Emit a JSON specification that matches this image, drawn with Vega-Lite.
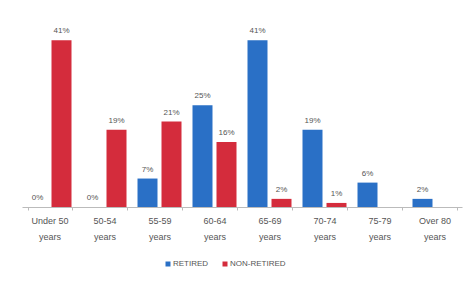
{
  "$schema": "https://vega.github.io/schema/vega-lite/v6.json",
  "width": 440,
  "height": 183,
  "autosize": {"type": "none"},
  "padding": {"left": 22, "top": 24, "right": 9, "bottom": 81},
  "background": "white",
  "config": {
    "view": {"stroke": null},
    "font": "Liberation Sans"
  },
  "data": {
    "values": [
      {"age": "Under 50 years", "group": "RETIRED", "pct": 0},
      {"age": "Under 50 years", "group": "NON-RETIRED", "pct": 41},
      {"age": "50-54 years", "group": "RETIRED", "pct": 0},
      {"age": "50-54 years", "group": "NON-RETIRED", "pct": 19},
      {"age": "55-59 years", "group": "RETIRED", "pct": 7},
      {"age": "55-59 years", "group": "NON-RETIRED", "pct": 21},
      {"age": "60-64 years", "group": "RETIRED", "pct": 25},
      {"age": "60-64 years", "group": "NON-RETIRED", "pct": 16},
      {"age": "65-69 years", "group": "RETIRED", "pct": 41},
      {"age": "65-69 years", "group": "NON-RETIRED", "pct": 2},
      {"age": "70-74 years", "group": "RETIRED", "pct": 19},
      {"age": "70-74 years", "group": "NON-RETIRED", "pct": 1},
      {"age": "75-79 years", "group": "RETIRED", "pct": 6},
      {"age": "Over 80 years", "group": "RETIRED", "pct": 2}
    ]
  },
  "encoding": {
    "x": {
      "field": "age",
      "type": "nominal",
      "sort": null,
      "scale": {"paddingInner": 0.2, "paddingOuter": 0.1},
      "axis": {
        "title": null,
        "labelAngle": 0,
        "labelAlign": "center",
        "labelFlush": false,
        "labelExpr": "datum.label ? [replace(datum.label, ' years', ''), 'years'] : ''",
        "labelFontSize": 9,
        "labelColor": "#555555",
        "labelLineHeight": 16,
        "labelPadding": 6,
        "domainColor": "#bbbbbb",
        "tickColor": "#bbbbbb",
        "tickBand": "extent",
        "tickSize": 3
      }
    },
    "xOffset": {
      "field": "group",
      "type": "nominal",
      "sort": ["RETIRED", "NON-RETIRED"],
      "scale": {"paddingInner": 0.1667, "paddingOuter": 0}
    },
    "y": {
      "field": "pct",
      "type": "quantitative",
      "scale": {"domain": [0, 45]},
      "axis": null
    }
  },
  "layer": [
    {
      "mark": {"type": "bar"},
      "encoding": {
        "color": {
          "field": "group",
          "type": "nominal",
          "sort": ["RETIRED", "NON-RETIRED"],
          "scale": {"domain": ["RETIRED", "NON-RETIRED"], "range": ["#2a70c6", "#d42c3c"]},
          "legend": {
            "title": null,
            "orient": "none",
            "direction": "horizontal",
            "legendX": 142,
            "legendY": 236,
            "symbolType": "square",
            "symbolSize": 25,
            "labelFontSize": 8,
            "labelColor": "#555555",
            "columnPadding": 12,
            "labelOffset": 1
          }
        }
      }
    },
    {
      "transform": [{"calculate": "datum.pct + '%'", "as": "lbl"}],
      "mark": {"type": "text", "dy": -9, "fontSize": 8, "color": "#555555"},
      "encoding": {
        "text": {"field": "lbl", "type": "nominal"},
        "detail": {"field": "group"}
      }
    }
  ]
}
